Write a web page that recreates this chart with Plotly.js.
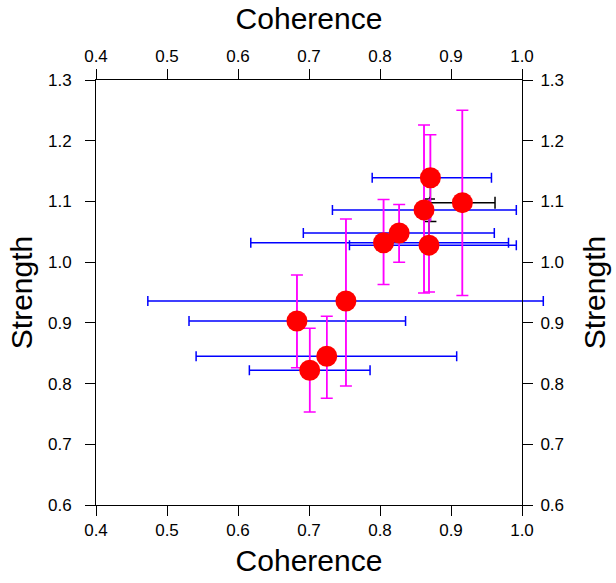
<!DOCTYPE html>
<html>
<head>
<meta charset="utf-8">
<script src="https://cdn.plot.ly/plotly-3.0.1.min.js"></script>
<style>
  html, body { margin: 0; padding: 0; background: #ffffff; }
  #chart { width: 616px; height: 583px; }
</style>
</head>
<body>
<div id="chart"></div>
<script>
// ---- data ----
const coherence    = [0.871, 0.916, 0.862, 0.869, 0.827, 0.805, 0.752, 0.683, 0.725, 0.701];
const strength     = [1.139, 1.098, 1.086, 1.028, 1.048, 1.032, 0.936, 0.903, 0.845, 0.822];
const cohErrMinus  = [0.082, 0.046, 0.129, 0.112, 0.135, 0.187, 0.279, 0.152, 0.184, 0.085];
const cohErrPlus   = [0.086, 0.046, 0.130, 0.123, 0.134, 0.176, 0.278, 0.153, 0.183, 0.085];
const strErrMinus  = [0.072, 0.153, 0.137, 0.077, 0.048, 0.069, 0.140, 0.077, 0.069, 0.069];
const strErrPlus   = [0.071, 0.152, 0.140, 0.076, 0.047, 0.071, 0.135, 0.076, 0.066, 0.069];
const xErrColor    = ['blue', 'black', 'blue', 'blue', 'blue', 'blue', 'blue', 'blue', 'blue', 'blue'];
const yUpCapColor  = ['magenta', 'magenta', 'magenta', 'black', 'magenta', 'magenta', 'magenta', 'magenta', 'magenta', 'magenta'];
const yLowCapColor = ['black', 'magenta', 'magenta', 'magenta', 'magenta', 'magenta', 'magenta', 'magenta', 'magenta', 'magenta'];
const axisTicks    = { x: [0.4, 0.5, 0.6, 0.7, 0.8, 0.9, 1.0], y: [0.6, 0.7, 0.8, 0.9, 1.0, 1.1, 1.2, 1.3] };
const xTitle = 'Coherence';
const yTitle = 'Strength';

// ---- styles ----
const COLORS = { blue: '#0000ff', black: '#000000', magenta: '#ff00ff', red: '#ff0000' };
const FONT = 'Liberation Sans, Arial, Helvetica, sans-serif';

function idx(pred) { return coherence.map((_, i) => i).filter(pred); }
function pick(arr, ids) { return ids.map(i => arr[i]); }
function hiddenMarkers() { return { size: 1, opacity: 0 }; }

const traces = [];

// x error bars, one trace per colour
['blue', 'black'].forEach(c => {
  const ids = idx(i => xErrColor[i] === c);
  if (!ids.length) return;
  traces.push({
    type: 'scatter', mode: 'markers', cliponaxis: false, hoverinfo: 'skip',
    x: pick(coherence, ids), y: pick(strength, ids), marker: hiddenMarkers(),
    error_x: { type: 'data', symmetric: false, array: pick(cohErrPlus, ids), arrayminus: pick(cohErrMinus, ids),
               color: COLORS[c], thickness: 1.5, width: c === 'black' ? 6 : 5 }
  });
});

// y error caps: black ones first, then magenta
['black', 'magenta'].forEach(c => {
  const ids = idx(i => yUpCapColor[i] === c || yLowCapColor[i] === c);
  if (!ids.length) return;
  traces.push({
    type: 'scatter', mode: 'markers', cliponaxis: false, hoverinfo: 'skip',
    x: pick(coherence, ids), y: pick(strength, ids), marker: hiddenMarkers(),
    error_y: { type: 'data', symmetric: false,
               array: ids.map(i => yUpCapColor[i] === c ? strErrPlus[i] : 0),
               arrayminus: ids.map(i => yLowCapColor[i] === c ? strErrMinus[i] : 0),
               color: COLORS[c], thickness: 1.5, width: 6 }
  });
});

// magenta stems over everything
traces.push({
  type: 'scatter', mode: 'markers', cliponaxis: false, hoverinfo: 'skip',
  x: coherence, y: strength, marker: hiddenMarkers(),
  error_y: { type: 'data', symmetric: false, array: strErrPlus, arrayminus: strErrMinus,
             color: COLORS.magenta, thickness: 1.5, width: 0 }
});

// red points on top
traces.push({
  type: 'scatter', mode: 'markers', cliponaxis: false,
  x: coherence, y: strength,
  marker: { color: COLORS.red, size: 21, line: { width: 0 } }
});

// invisible traces so the top and right axes get drawn
traces.push({ type: 'scatter', mode: 'markers', x: coherence, y: strength, xaxis: 'x2', yaxis: 'y',
              marker: hiddenMarkers(), hoverinfo: 'skip' });
traces.push({ type: 'scatter', mode: 'markers', x: coherence, y: strength, xaxis: 'x', yaxis: 'y2',
              marker: hiddenMarkers(), hoverinfo: 'skip' });

function axisBase(ticks, range, title, standoff, labelStandoff) {
  return {
    range: range, autorange: false,
    tickmode: 'array', tickvals: ticks, ticktext: ticks.map(v => v.toFixed(1)),
    ticks: 'outside', ticklen: 10, tickwidth: 1, tickcolor: '#000',
    ticklabelstandoff: labelStandoff,
    showline: true, linecolor: '#000', linewidth: 1,
    showgrid: false, zeroline: false,
    tickfont: { family: FONT, size: 17, color: '#000' },
    title: { text: title, font: { family: FONT, size: 30, color: '#000' }, standoff: standoff },
    fixedrange: true
  };
}

const xr = [0.4, 1.0], yr = [0.6, 1.3];
const layout = {
  width: 616, height: 583,
  margin: { l: 96, r: 94, t: 80, b: 78, pad: 0 },
  paper_bgcolor: '#fff', plot_bgcolor: '#fff',
  showlegend: false,
  font: { family: FONT, color: '#000' },
  xaxis: Object.assign(axisBase(axisTicks.x, xr, xTitle, 10, 0), { side: 'bottom', anchor: 'y' }),
  xaxis2: Object.assign(axisBase(axisTicks.x, xr, xTitle, 8, 0), { side: 'top', overlaying: 'x', anchor: 'y' }),
  yaxis: Object.assign(axisBase(axisTicks.y, yr, yTitle, 6, 10), { side: 'left', anchor: 'x' }),
  yaxis2: Object.assign(axisBase(axisTicks.y, yr, yTitle, 20, 4), { side: 'right', overlaying: 'y', anchor: 'x' })
};

Plotly.newPlot('chart', traces, layout, { displayModeBar: false, staticPlot: true }).then(gd => {
  // error bars in the reference run past the frame: lift the subplot clipping
  gd.querySelectorAll('.cartesianlayer [clip-path]').forEach(el => el.removeAttribute('clip-path'));
});
</script>
</body>
</html>
